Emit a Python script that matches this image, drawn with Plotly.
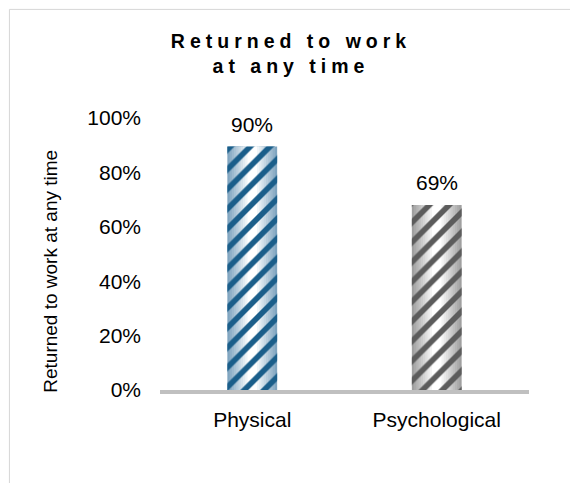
import plotly.graph_objects as go

categories = ["Physical", "Psychological"]
values = [0.895, 0.68]
labels = ["90%", "69%"]
stripe_colors = ["#1a5e8a", "#5c5c5c"]
edge_colors = [(128, 165, 192), (160, 160, 160)]
tick_vals = [0, 0.2, 0.4, 0.6, 0.8, 1.0]
tick_text = ["0%", "20%", "40%", "60%", "80%", "100%"]
title_lines = ["Returned to work", "at any time"]
y_title = "Returned to work at any time"

FONT = "Arial, 'Liberation Sans', sans-serif"
BAR_W = 0.27
N_LAYERS = 10

fig = go.Figure()

# shading layers (cylinder-like gradient): edge colour -> white toward centre
for k in range(N_LAYERS):
    t = k / (N_LAYERS - 1)
    cols = []
    for (r, g, b) in edge_colors:
        cols.append("rgb(%d,%d,%d)" % (r + (255 - r) * t, g + (255 - g) * t, b + (255 - b) * t))
    fig.add_trace(go.Bar(
        x=categories, y=values, width=BAR_W * (1 - 0.9 * k / N_LAYERS),
        marker=dict(color=cols, line=dict(width=0)), hoverinfo="skip",
    ))

# striped pattern on top
fig.add_trace(go.Bar(
    x=categories, y=values, width=BAR_W,
    marker=dict(
        color="rgba(0,0,0,0)",
        line=dict(width=0),
        pattern=dict(shape="/", fgcolor=stripe_colors, bgcolor="rgba(0,0,0,0)",
                     size=14, solidity=0.4, fillmode="replace", fgopacity=1),
    ),
))

for c, v, lab in zip(categories, values, labels):
    fig.add_annotation(x=c, y=v, text=lab, showarrow=False, yanchor="bottom",
                       yshift=9, font=dict(size=21, color="#000", family=FONT))

# vertical axis title
fig.add_annotation(text=y_title, textangle=-90, showarrow=False,
                   xref="paper", yref="paper", x=(50 - 159.5) / 370, y=(390.5 - 271) / 273,
                   xanchor="center", yanchor="middle",
                   font=dict(size=19, color="#000", family=FONT))

title_html = "<br>".join(
    "<span style='letter-spacing:5px'>" + line + "</span>" for line in title_lines)

PLOT_T = 109.5
PLOT_H = 273
fig.update_layout(
    width=570, height=475,
    margin=dict(l=151.5, r=48.5, t=PLOT_T, b=475 - PLOT_T - PLOT_H),
    paper_bgcolor="white", plot_bgcolor="white",
    showlegend=False, barmode="overlay",
    font=dict(family=FONT, size=21, color="#000"),
    title=dict(
        text="<b>" + title_html + "</b>",
        x=(291 - 8) / 570, xref="container", xanchor="center",
        y=1 - 40 / 475, yref="container", yanchor="top",
        font=dict(size=19.5, family=FONT, color="#000"),
    ),
    xaxis=dict(
        range=[-0.5, 1.5], showline=True, linecolor="#c0c0c0", linewidth=4,
        ticks="", showgrid=False, tickfont=dict(size=21), ticklabelstandoff=8,
    ),
    yaxis=dict(
        range=[0, 1.0], tickvals=tick_vals, ticktext=tick_text,
        showgrid=False, zeroline=False, showline=False, ticks="",
        tickfont=dict(size=21), ticklabelstandoff=18,
    ),
    shapes=[dict(type="rect", xref="paper", yref="paper",
                 x0=(0.5 - 151.5) / 370, x1=1.3, y0=-0.5,
                 y1=1 + (PLOT_T - 0.5) / PLOT_H,
                 line=dict(color="#d6d6d6", width=1), fillcolor="rgba(0,0,0,0)",
                 layer="below")],
)

fig.write_html("out.html")
